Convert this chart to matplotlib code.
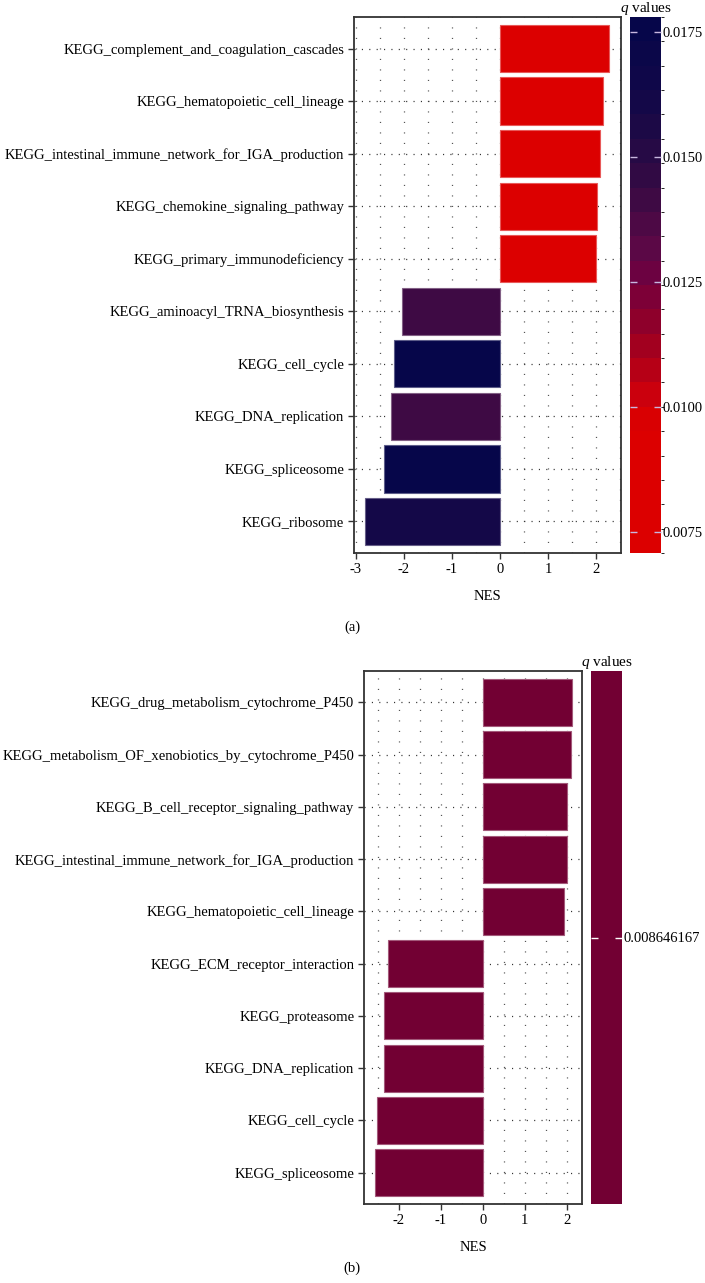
"""
KEGG GSEA bar charts, NES coloured by q value (panels a and b)
"""

import numpy as np
import matplotlib

matplotlib.use("Agg")
import matplotlib.pyplot as plt  # noqa:E402
from matplotlib.colors import LinearSegmentedColormap, BoundaryNorm, ListedColormap  # noqa:E402
from matplotlib.cm import ScalarMappable  # noqa:E402

plt.rcParams["font.family"] = ["Liberation Serif", "DejaVu Serif"]
plt.rcParams["mathtext.fontset"] = "custom"
plt.rcParams["mathtext.it"] = "Liberation Serif:italic"
plt.rcParams["mathtext.rm"] = "Liberation Serif"

# panel a, listed top to bottom
terms_a = [
    "KEGG_complement_and_coagulation_cascades",
    "KEGG_hematopoietic_cell_lineage",
    "KEGG_intestinal_immune_network_for_IGA_production",
    "KEGG_chemokine_signaling_pathway",
    "KEGG_primary_immunodeficiency",
    "KEGG_aminoacyl_TRNA_biosynthesis",
    "KEGG_cell_cycle",
    "KEGG_DNA_replication",
    "KEGG_spliceosome",
    "KEGG_ribosome",
]
nes_a = [2.26, 2.15, 2.09, 2.02, 2.00, -2.04, -2.21, -2.27, -2.41, -2.81]
q_a = [0.0074, 0.0074, 0.0074, 0.0074, 0.0074, 0.0139, 0.0177, 0.0139, 0.0176, 0.0160]
cbar_ticks_a = [0.0075, 0.0100, 0.0125, 0.0150, 0.0175]

# panel b, listed top to bottom
terms_b = [
    "KEGG_drug_metabolism_cytochrome_P450",
    "KEGG_metabolism_OF_xenobiotics_by_cytochrome_P450",
    "KEGG_B_cell_receptor_signaling_pathway",
    "KEGG_intestinal_immune_network_for_IGA_production",
    "KEGG_hematopoietic_cell_lineage",
    "KEGG_ECM_receptor_interaction",
    "KEGG_proteasome",
    "KEGG_DNA_replication",
    "KEGG_cell_cycle",
    "KEGG_spliceosome",
]
nes_b = [2.13, 2.10, 2.01, 2.01, 1.92, -2.25, -2.35, -2.36, -2.52, -2.58]
q_b = 0.008646167

W, H = 705, 1283
FS = 10.5

# red -> maroon -> navy, as in the q value legend
q_anchor = [0.00707, 0.0095, 0.0102, 0.0110, 0.0118, 0.0125, 0.0132, 0.0140, 0.0150, 0.0162, 0.0178]
q_color = ["#dc0000", "#dc0000", "#c8000f", "#a8001c", "#88002e", "#720040", "#5a0846",
           "#440a44", "#2a0a44", "#140848", "#06064a"]
vmin, vmax = q_anchor[0], q_anchor[-1]
pos = [(v - vmin) / (vmax - vmin) for v in q_anchor]
cmap_a = LinearSegmentedColormap.from_list("qcol", list(zip(pos, q_color)))
bounds = np.linspace(vmin, vmax, 23)
norm_a = BoundaryNorm(bounds, 256)

color_b = "#720033"


def lighten(c, f=0.35):
    c = np.array(matplotlib.colors.to_rgb(c))
    return tuple(c + (1 - c) * f)


def px_axes(fig, left, top, right, bottom):
    return fig.add_axes([left / W, 1 - bottom / H, (right - left) / W, (bottom - top) / H])


def draw_panel(ax, terms, nes, colors, xlim, xticks):
    n = len(terms)
    y = np.arange(n)[::-1]
    ax.set_xlim(*xlim)
    ax.set_ylim(-0.6, n - 0.4)

    # dotted grid
    for xv in np.arange(np.ceil(xlim[0] * 2) / 2, xlim[1], 0.5):
        ax.axvline(xv, color="#555555", lw=0.9, ls=(0, (0.9, 7.5)), zorder=0)
    for yv in y:
        ax.axhline(yv, color="#333333", lw=0.9, ls=(0, (0.9, 5.0)), zorder=0)

    ax.barh(y, nes, height=0.9, color=colors,
            edgecolor=[lighten(c) for c in colors], linewidth=0.8, zorder=2)

    ax.set_yticks(y)
    ax.set_yticklabels(terms, fontsize=FS)
    ax.set_xticks(xticks)
    ax.set_xticklabels([str(t) for t in xticks], fontsize=FS)
    ax.tick_params(axis="both", direction="out", length=4, width=1.0, color="#333333", pad=3)
    for s in ax.spines.values():
        s.set_color("#333333")
        s.set_linewidth(1.3)
    ax.set_xlabel("NES", fontsize=FS, labelpad=10)


def style_cbar(cb, labels, tick_color):
    cb.outline.set_visible(False)
    cb.ax.set_yticklabels(labels, fontsize=FS)
    cb.ax.tick_params(axis="y", direction="in", length=5, width=1.0, color=tick_color,
                      left=True, right=True, labelleft=False, labelright=True, pad=1)
    cb.ax.set_title(r"$q$ values", fontsize=FS + 0.5, pad=3)


def main():
    fig = plt.figure(figsize=(W / 100, H / 100), dpi=100)

    # panel a
    ax_a = px_axes(fig, 354, 17, 621, 553)
    colors_a = [cmap_a(norm_a(q)) for q in q_a]
    draw_panel(ax_a, terms_a, nes_a, colors_a, (-3.04, 2.52), [-3, -2, -1, 0, 1, 2])

    cax_a = px_axes(fig, 630, 17, 661, 553)
    sm = ScalarMappable(norm=norm_a, cmap=cmap_a)
    cb = fig.colorbar(sm, cax=cax_a, ticks=cbar_ticks_a)
    style_cbar(cb, [f"{t:.4f}" for t in cbar_ticks_a], "#c8b8e0")
    fig.text(352 / W, 1 - 627 / H, "(a)", fontsize=FS, ha="center", va="center")

    # panel b
    ax_b = px_axes(fig, 364, 671, 582, 1204)
    colors_b = [color_b] * len(terms_b)
    draw_panel(ax_b, terms_b, nes_b, colors_b, (-2.83, 2.36), [-2, -1, 0, 1, 2])

    cax_b = px_axes(fig, 591, 671, 622, 1204)
    cmap_b = ListedColormap([color_b])
    sm_b = ScalarMappable(norm=matplotlib.colors.Normalize(q_b - 1e-4, q_b + 1e-4), cmap=cmap_b)
    cb_b = fig.colorbar(sm_b, cax=cax_b, ticks=[q_b])
    style_cbar(cb_b, [f"{q_b:.9f}"], "white")
    fig.text(352 / W, 1 - 1268 / H, "(b)", fontsize=FS, ha="center", va="center")

    fig.savefig("out.png", dpi=100)
    plt.close(fig)


if __name__ == "__main__":
    main()
